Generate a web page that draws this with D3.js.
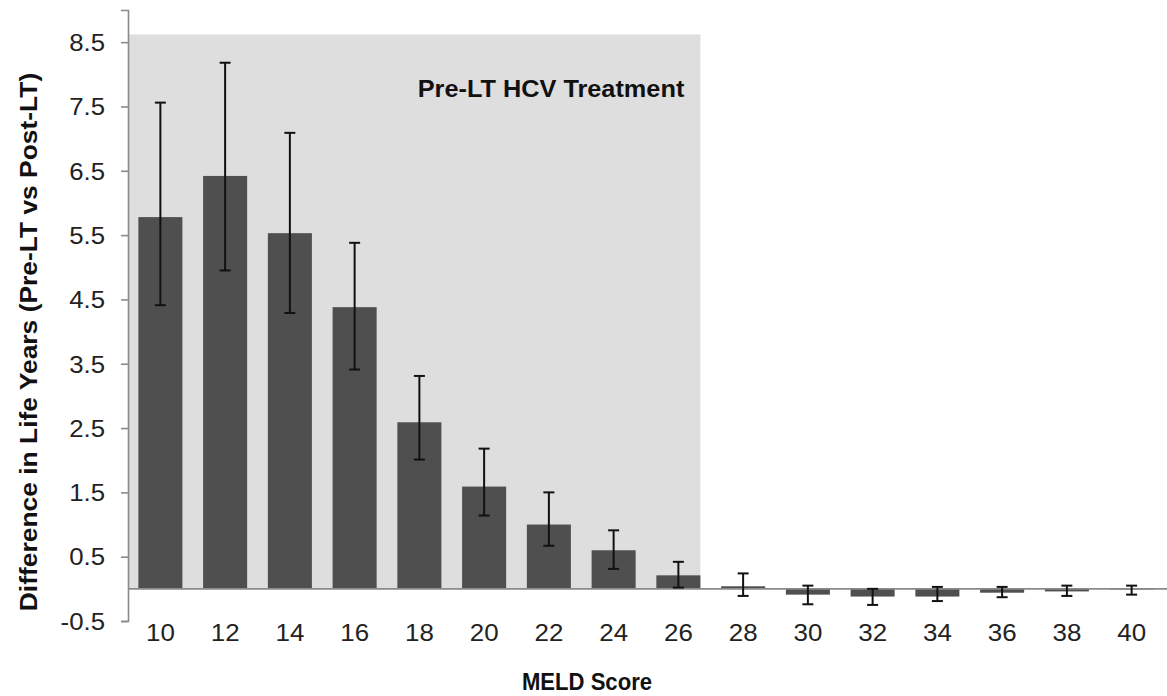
<!DOCTYPE html>
<html>
<head>
<meta charset="utf-8">
<script src="https://cdn.jsdelivr.net/npm/d3@7"></script>
<style>
  html, body { margin: 0; padding: 0; background: #fff; }
  svg { display: block; }
  text { font-family: "Liberation Sans", Arial, Helvetica, sans-serif; }
</style>
</head>
<body>
<svg id="chart" width="1167" height="696"></svg>
<script>
// ---- data ----
const categories = ["10","12","14","16","18","20","22","24","26","28","30","32","34","36","38","40"];
const values   = [5.78, 6.42, 5.53, 4.38, 2.59, 1.59, 1.00, 0.60, 0.21, 0.04, -0.09, -0.12, -0.12, -0.06, -0.04, -0.01];
const errHigh  = [7.56, 8.18, 7.09, 5.38, 3.31, 2.18, 1.50, 0.91, 0.42, 0.24, 0.05, 0.00, 0.03, 0.03, 0.05, 0.05];
const errLow   = [4.41, 4.95, 4.29, 3.41, 2.01, 1.14, 0.67, 0.31, 0.02, -0.11, -0.24, -0.25, -0.19, -0.13, -0.11, -0.09];
const yTicks   = [-0.5, 0.5, 1.5, 2.5, 3.5, 4.5, 5.5, 6.5, 7.5, 8.5];
const yTickLabels = ["-0.5", "0.5", "1.5", "2.5", "3.5", "4.5", "5.5", "6.5", "7.5", "8.5"];
const yDomain  = [-0.5, 9.0];
const shadeTop = 8.62;
const shadeLastCategory = "26";
const shadeLabel = "Pre-LT HCV Treatment";
const xTitle = "MELD Score";
const yTitle = "Difference in Life Years (Pre-LT vs Post-LT)";

// ---- layout ----
const svg = d3.select("#chart");
const left = 128, right = 1164;
const x = d3.scaleBand().domain(categories).range([left, right]).paddingInner(0.32).paddingOuter(0.16);
const y = d3.scaleLinear().domain(yDomain).range([621, 10]);

function stretch(sel, s) {
  sel.each(function() {
    const w = this.getComputedTextLength();
    d3.select(this).attr("textLength", w * s).attr("lengthAdjust", "spacingAndGlyphs");
  });
}

// shaded region
svg.append("rect")
  .attr("x", left)
  .attr("y", y(shadeTop))
  .attr("width", x(shadeLastCategory) + x.bandwidth() - left)
  .attr("height", y(0) - y(shadeTop))
  .attr("fill", "#dedede");

// y axis
const yAxis = d3.axisLeft(y).tickValues(yTicks).tickSize(7).tickPadding(16)
  .tickFormat((d, i) => yTickLabels[i]);
const gy = svg.append("g").attr("transform", `translate(${left},0)`).call(yAxis);
gy.select(".domain").attr("stroke", "#8a8a8a").attr("stroke-width", 1.6);
gy.selectAll(".tick line").attr("stroke", "#8a8a8a").attr("stroke-width", 1.6);
gy.selectAll(".tick text").attr("font-size", 23).attr("fill", "#222")
  .attr("font-family", "'Liberation Sans', Arial, sans-serif").attr("dy", "0.36em");
stretch(gy.selectAll(".tick text"), 1.12);

// bars
svg.append("g").selectAll("rect").data(categories).join("rect")
  .attr("x", d => x(d))
  .attr("width", x.bandwidth())
  .attr("y", (d, i) => y(Math.max(0, values[i])))
  .attr("height", (d, i) => Math.abs(y(values[i]) - y(0)))
  .attr("fill", "#4f4f4f");

// zero line (x axis)
const xAxis = d3.axisBottom(x).tickSize(0).tickPadding(0);
const gx = svg.append("g").attr("transform", `translate(0,${y(0)})`).call(xAxis);
gx.select(".domain").remove();
gx.append("line").attr("x1", left).attr("x2", 1167).attr("y1", 0).attr("y2", 0)
  .attr("stroke", "#8a8a8a").attr("stroke-width", 1.6);
gx.selectAll(".tick text").attr("font-size", 24).attr("fill", "#222")
  .attr("font-family", "'Liberation Sans', Arial, sans-serif")
  .attr("y", y(-0.5) - y(0) + 20).attr("dy", 0);
stretch(gx.selectAll(".tick text"), 1.08);

// error bars
const capW = 11;
const eg = svg.append("g").attr("stroke", "#111").attr("stroke-width", 2);
categories.forEach((c, i) => {
  const cx = x(c) + x.bandwidth() / 2;
  eg.append("line").attr("x1", cx).attr("x2", cx).attr("y1", y(errHigh[i])).attr("y2", y(errLow[i]));
  eg.append("line").attr("x1", cx - capW/2).attr("x2", cx + capW/2).attr("y1", y(errHigh[i])).attr("y2", y(errHigh[i]));
  eg.append("line").attr("x1", cx - capW/2).attr("x2", cx + capW/2).attr("y1", y(errLow[i])).attr("y2", y(errLow[i]));
});

// annotation
const ann = svg.append("text")
  .attr("x", 551).attr("y", 97)
  .attr("text-anchor", "middle")
  .attr("font-size", 23).attr("font-weight", "bold").attr("fill", "#111")
  .text(shadeLabel);
stretch(ann, 1.1);

// x title
const xt = svg.append("text")
  .attr("x", 587).attr("y", 690)
  .attr("text-anchor", "middle")
  .attr("font-size", 23).attr("font-weight", "bold").attr("fill", "#111")
  .text(xTitle);
stretch(xt, 0.96);

// y title
const yt = svg.append("text")
  .attr("transform", "translate(37,342) rotate(-90)")
  .attr("text-anchor", "middle")
  .attr("font-size", 24).attr("font-weight", "bold").attr("fill", "#111")
  .text(yTitle);
stretch(yt, 1.1);
</script>
</body>
</html>
